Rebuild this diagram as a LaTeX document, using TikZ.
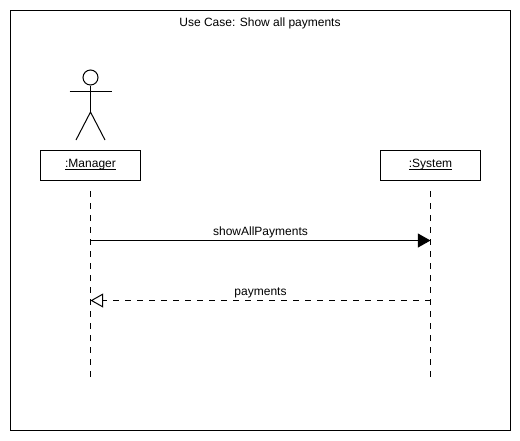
\documentclass[tikz,border=0pt]{standalone}
\usepackage{fontspec}
\setmainfont{Liberation Sans}
\usetikzlibrary{arrows.meta}

\tikzset{
    objbox/.style={draw, rectangle, minimum width=75pt, minimum height=22.5pt, inner sep=0pt, text height=6.5pt, text depth=3pt, font=\fontsize{9}{11}\selectfont},
    msglabel/.style={above, inner sep=0pt, yshift=1.3pt, font=\fontsize{9}{11}\selectfont},
    lifeline/.style={dash pattern=on 4.5pt off 4.5pt},
    callmsg/.style={-{Triangle[length=9.5pt,width=10.5pt,fill=black]}},
    returnmsg/.style={dash pattern=on 4.5pt off 4.5pt, -{Triangle[open,length=9.5pt,width=10.5pt,fill=white]}}
}

\begin{document}
\begin{tikzpicture}[x=0.75pt, y=-0.75pt, line width=0.75pt]
        \useasboundingbox (0,0) rectangle (520,440);

        % Outer frame and title
        \node[draw, rectangle, minimum width=375pt, minimum height=315pt, inner sep=0pt] (frame) at (260.5,220.5) {};
        \node[inner sep=0pt, font=\fontsize{9}{11}\selectfont] (title) at (260,23.5) {Use Case: Show all payments};

        % Actor
        \node[draw, circle, minimum size=11.25pt, inner sep=0pt] (head) at (90.5,77.5) {};
        \coordinate (hip) at (90.5,112);
        \coordinate (armL) at (69.5,91);
        \coordinate (armR) at (111.5,91);
        \coordinate (footL) at (76,140);
        \coordinate (footR) at (105,140);
        \draw (head) -- (hip);
        \draw (armL) -- (armR);
        \draw (footL) -- (hip) -- (footR);

        % Objects
        \node[objbox] (manager) at (90.5,165.5) {\underline{\smash{:Manager}}};
        \node[objbox] (system) at (430.5,165.5) {\underline{\smash{:System}}};

        % Lifelines
        \coordinate (managerEnd) at (90.5,377);
        \coordinate (systemEnd) at (430.5,377);
        \draw[lifeline, shorten <=7.5pt] (manager.south) -- (managerEnd);
        \draw[lifeline, shorten <=7.5pt] (system.south) -- (systemEnd);

        % Messages
        \coordinate (callFrom) at (90.5,240.5);
        \coordinate (callTo) at (430.5,240.5);
        \coordinate (returnFrom) at (430.5,300.5);
        \coordinate (returnTo) at (90.5,300.5);
        \draw[callmsg] (callFrom) -- node[msglabel] (callLabel) {showAllPayments} (callTo);
        \draw[returnmsg] (returnFrom) -- node[msglabel] (returnLabel) {payments} (returnTo);
    \end{tikzpicture}
\end{document}
